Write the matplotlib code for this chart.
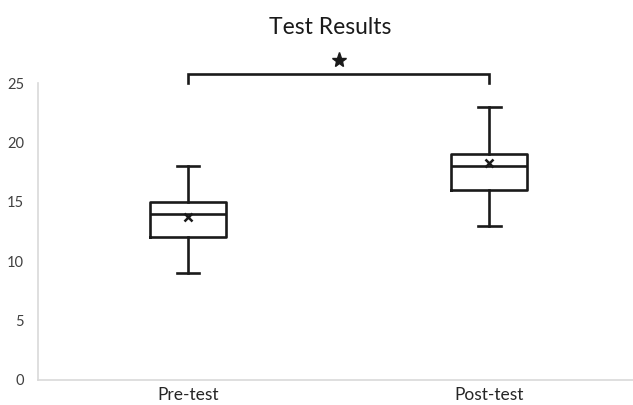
import matplotlib.pyplot as plt

# Box plot summary values for each test.
groups = ["Pre-test", "Post-test"]
whisker_low = [9, 13]
q1 = [12, 16]
median = [14, 18]
q3 = [15, 19]
whisker_high = [18, 23]
mean = [13.7, 18.3]

y_ticks = [0, 5, 10, 15, 20, 25]

plt.rcParams['font.family'] = ['Lato', 'DejaVu Sans']

fig = plt.figure(figsize=(6.33, 4.05), dpi=100)
ax = fig.add_axes([0.06, 0.062, 0.94, 0.733])

stats = []
for i, name in enumerate(groups):
    stats.append({
        'label': name,
        'whislo': whisker_low[i],
        'q1': q1[i],
        'med': median[i],
        'q3': q3[i],
        'whishi': whisker_high[i],
        'mean': mean[i],
        'fliers': [],
    })

dark = '#1a1a1a'
lw = 1.9
positions = [1, 2]
ax.bxp(stats, positions=positions, widths=0.25, showmeans=True,
       boxprops=dict(color=dark, lw=lw),
       medianprops=dict(color=dark, lw=lw),
       whiskerprops=dict(color=dark, lw=lw),
       capprops=dict(color=dark, lw=lw),
       capwidths=0.076,
       meanprops=dict(marker='x', markeredgecolor=dark, markersize=6,
                      markeredgewidth=1.8))

ax.set_xlim(0.5017, 2.478)
ax.set_ylim(0, 25)
ax.set_yticks(y_ticks)
ax.set_xticks(positions)
ax.set_xticklabels(groups, fontsize=12.5, color='#262626')

for side in ['top', 'right']:
    ax.spines[side].set_visible(False)
for side in ['left', 'bottom']:
    ax.spines[side].set_color('#d9d9d9')
    ax.spines[side].set_linewidth(1.2)
ax.tick_params(axis='y', length=0, pad=10, labelsize=10.5, labelcolor='#404040')
ax.tick_params(axis='x', length=0, pad=5)

# Significance bracket between the two groups.
bracket_y = 25.75
ax.plot([1, 1, 2, 2], [25.0, bracket_y, bracket_y, 25.0], color=dark,
        lw=lw, clip_on=False, solid_joinstyle='miter')
ax.plot([1.5], [26.9], marker='*', markersize=11, color=dark,
        clip_on=False)

fig.text(0.522, 0.933, 'Test Results', ha='center', va='center',
         fontsize=16.5, color='#1a1a1a')

fig.savefig('out.png', dpi=100)
